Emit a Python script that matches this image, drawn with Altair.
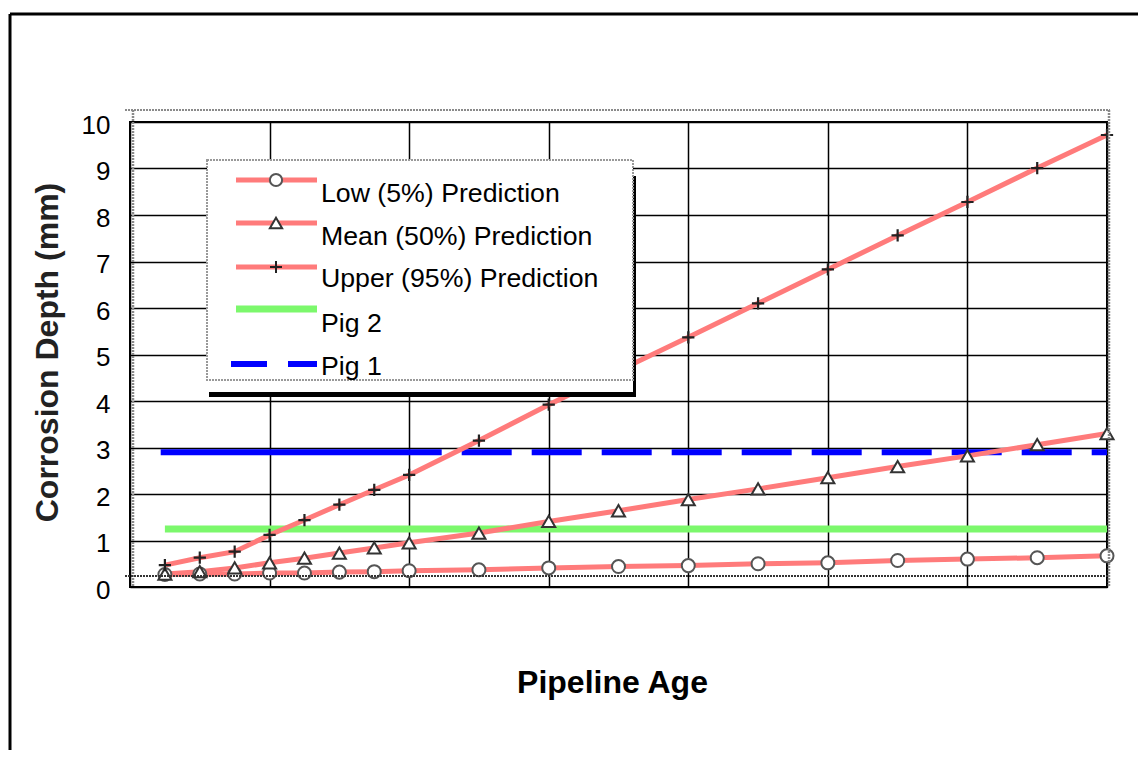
import altair as alt
import pandas as pd

# ---------------- data ----------------
age = [0.25, 0.5, 0.75, 1.0, 1.25, 1.5, 1.75, 2.0, 2.5, 3.0, 3.5, 4.0, 4.5, 5.0, 5.5, 6.0, 6.5, 7.0]
low = [0.27, 0.28, 0.28, 0.30, 0.30, 0.32, 0.33, 0.35, 0.37, 0.41, 0.44, 0.46, 0.50, 0.52, 0.57, 0.60, 0.63, 0.67]
mean = [0.28, 0.33, 0.41, 0.52, 0.62, 0.73, 0.84, 0.95, 1.16, 1.41, 1.64, 1.88, 2.11, 2.35, 2.59, 2.82, 3.06, 3.30]
upper = [0.47, 0.63, 0.76, 1.12, 1.44, 1.77, 2.09, 2.41, 3.15, 3.92, 4.65, 5.37, 6.10, 6.83, 7.56, 8.28, 9.01, 9.72]
pig2_age = [0.25, 7.0]
pig2_depth = [1.25, 1.25]
pig1_age = [0.22, 7.0]
pig1_depth = [2.9, 2.9]
y_ticks = [0, 1, 2, 3, 4, 5, 6, 7, 8, 9, 10]
x_grid = [0, 1, 2, 3, 4, 5, 6, 7]
series_names = ["Low (5%) Prediction", "Mean (50%) Prediction", "Upper (95%) Prediction"]
legend_labels = ["Low (5%) Prediction", "Mean (50%) Prediction", "Upper (95%) Prediction", "Pig 2", "Pig 1"]

FONT = "Liberation Sans"
RED = "#ff7b7b"
GREEN = "#7cf86c"
BLUE = "#0000ff"
PLUS = "M-1,0L1,0M0,-1L0,1"

pred = pd.DataFrame({
    "age": age * 3,
    "depth": low + mean + upper,
    "series": [series_names[0]] * len(age) + [series_names[1]] * len(age) + [series_names[2]] * len(age),
})
pig2 = pd.DataFrame({"age": pig2_age, "depth": pig2_depth})
pig1 = pd.DataFrame({"age": pig1_age, "depth": pig1_depth})
one = pd.DataFrame({"k": [0]})

xs = alt.Scale(domain=[0, 7], nice=False, zero=False)
ys = alt.Scale(domain=[0, 10], nice=False)

xaxis = alt.Axis(values=x_grid, grid=True, gridColor="black", gridWidth=1.5, labels=False,
                 ticks=False, tickSize=0, domain=False, title="Pipeline Age", titleFont=FONT,
                 titleFontSize=32, titleFontWeight="bold", titleColor="black", titleX=482, titleY=105,
                 titleAlign="center", titleBaseline="alphabetic")
yaxis = alt.Axis(values=y_ticks, grid=True, gridColor="black", gridWidth=1.5, ticks=False, tickSize=0,
                 domain=False, labelFont=FONT, labelFontSize=26, labelColor="black", labelPadding=20,
                 labelOffset=3, title="Corrosion Depth (mm)", titleFont=FONT, titleFontSize=32,
                 titleFontWeight="bold", titleColor="#222", titleAngle=270, titleX=-73, titleY=230,
                 titleAlign="center", titleBaseline="alphabetic")

xenc = alt.X("age:Q", scale=xs, axis=xaxis)
yenc = alt.Y("depth:Q", scale=ys, axis=yaxis)

layers = []

# green & blue reference levels
layers.append(alt.Chart(pig2).mark_line(color=GREEN, strokeWidth=7).encode(x=xenc, y=yenc))
pig1_dash = [281, 20] + [50, 20] * 12
layers.append(alt.Chart(pig1).mark_line(color=BLUE, strokeWidth=6, strokeDash=pig1_dash)
              .encode(x=xenc, y=yenc))

# prediction lines
layers.append(alt.Chart(pred).mark_line(color=RED, strokeWidth=5).encode(
    x=xenc, y=yenc, detail="series:N"))

# markers
layers.append(alt.Chart(pred).transform_filter(alt.datum.series == series_names[0]).mark_point(
    shape="circle", filled=True, fill="white", stroke="#555", strokeWidth=2, size=170, opacity=1
).encode(x=xenc, y=yenc))
layers.append(alt.Chart(pred).transform_filter(alt.datum.series == series_names[1]).mark_point(
    shape="triangle-up", filled=True, fill="white", stroke="#333", strokeWidth=2, size=170, opacity=1
).encode(x=xenc, y=yenc))
layers.append(alt.Chart(pred).transform_filter(alt.datum.series == series_names[2]).mark_point(
    shape=PLUS, filled=False, stroke="#222", strokeWidth=2.2, size=150, opacity=1
).encode(x=xenc, y=yenc))

# ---------------- decorative frame pieces ----------------
def rule(x1, x2, y1, y2, color, width, dash=None):
    kw = dict(color=color, strokeWidth=width)
    if dash:
        kw["strokeDash"] = dash
    return alt.Chart(one).mark_rule(**kw).encode(
        x=alt.value(x1), x2=alt.value(x2), y=alt.value(y1), y2=alt.value(y2))

# outer page frame
layers.append(rule(-120, 1020, -108, -108, "black", 3))
layers.append(rule(-120, -120, -108, 640, "black", 3))
# offset original frame (gray dotted) and dotted baseline
layers.append(rule(-5, 980, -12, -12, "#8a8a8a", 2, [2, 1]))
layers.append(rule(979, 979, -12, 465, "#8a8a8a", 2.5, [2, 1]))
layers.append(rule(3, 3, -12, 465, "#8a8a8a", 2.5, [2, 1]))
layers.append(rule(-5, 979, 454, 454, "#333", 2, [2, 1]))

# ---------------- legend ----------------
def rect(x1, x2, y1, y2, **kw):
    return alt.Chart(one).mark_rect(**kw).encode(
        x=alt.value(x1), x2=alt.value(x2), y=alt.value(y1), y2=alt.value(y2))

layers.append(rect(79, 506, 270, 275, color="black"))
layers.append(rect(501, 506, 54, 275, color="black"))
layers.append(rect(77, 503, 38, 270, color="white"))
layers.append(rect(77, 503, 38, 258, filled=False, stroke="#999", strokeWidth=2, strokeDash=[2, 1]))

line_y = [58, 101, 145, 187, 242]
text_y = [80, 123, 165, 210, 253]
for i, lab in enumerate(legend_labels):
    if i < 3:
        layers.append(rule(106, 187, line_y[i], line_y[i], RED, 5))
    elif i == 3:
        layers.append(rule(106, 187, line_y[i], line_y[i], GREEN, 7))
    else:
        layers.append(rule(101, 187, line_y[i], line_y[i], BLUE, 6, [36, 21]))
    layers.append(alt.Chart(one).mark_text(text=lab, font=FONT, fontSize=26.7, color="black",
                                           align="left", baseline="alphabetic").encode(
        x=alt.value(191), y=alt.value(text_y[i])))

layers.append(alt.Chart(one).mark_point(shape="circle", filled=True, fill="white", stroke="#555",
                                        strokeWidth=2, size=150, opacity=1).encode(
    x=alt.value(146), y=alt.value(line_y[0])))
layers.append(alt.Chart(one).mark_point(shape="triangle-up", filled=True, fill="white", stroke="#333",
                                        strokeWidth=2, size=150, opacity=1).encode(
    x=alt.value(146), y=alt.value(line_y[1])))
layers.append(alt.Chart(one).mark_point(shape=PLUS, filled=False, stroke="#222", strokeWidth=2,
                                        size=144, opacity=1).encode(
    x=alt.value(146), y=alt.value(line_y[2])))

chart = alt.layer(*layers).properties(
    width=977, height=465,
    autosize=alt.AutoSizeParams(type="none"),
    padding={"left": 122, "top": 114, "right": 31, "bottom": 163},
    background="white",
).configure_view(stroke="black", strokeWidth=2)

chart.save("out.html", embed_options={"renderer": "svg", "actions": False})
